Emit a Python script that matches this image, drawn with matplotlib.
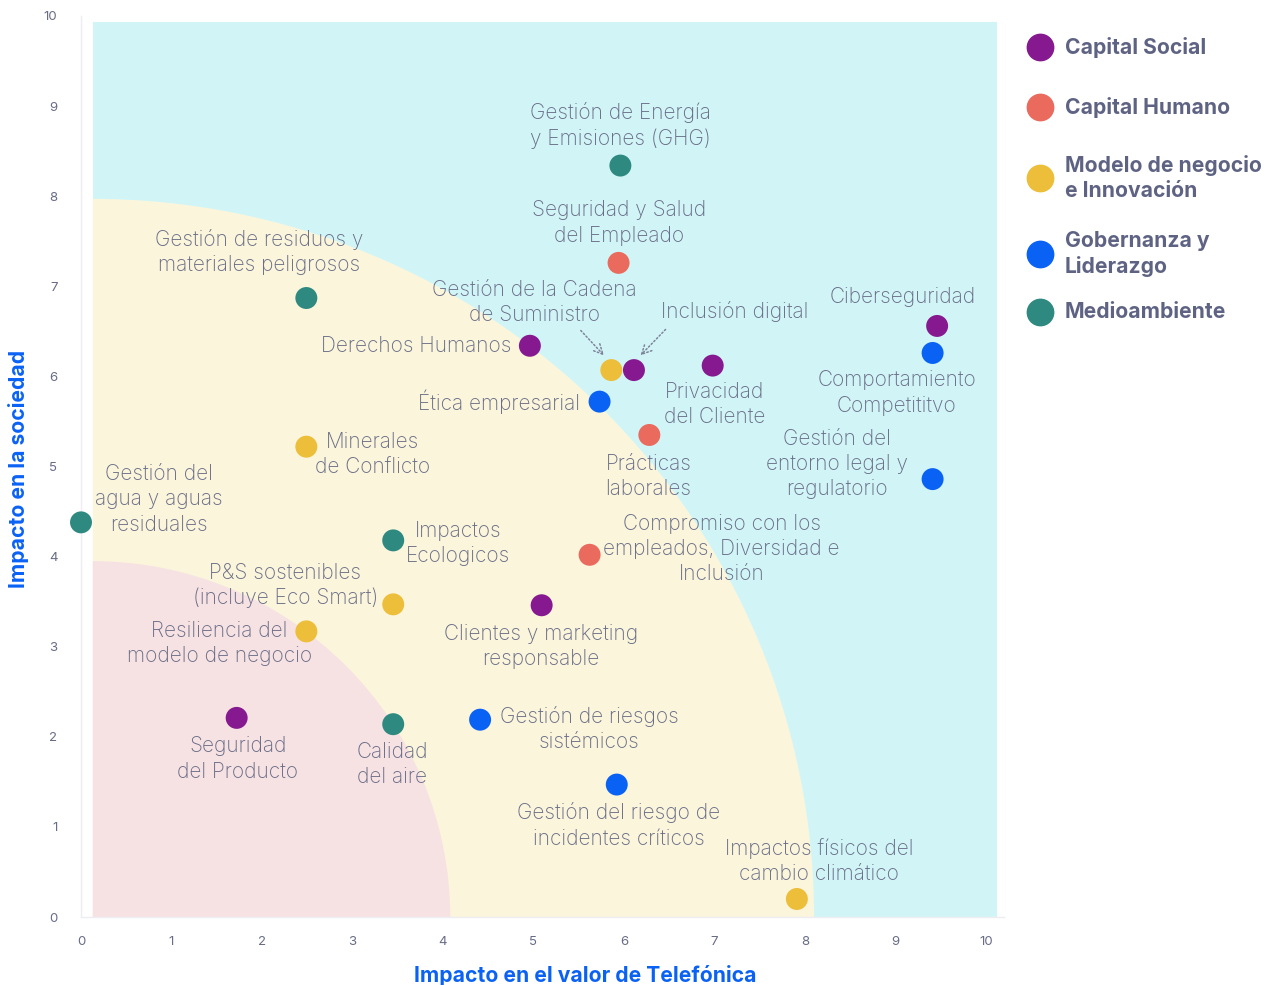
import matplotlib
matplotlib.use("Agg")
import matplotlib.pyplot as plt
from matplotlib.patches import Rectangle, Wedge
from matplotlib.lines import Line2D

# ---------------- data ----------------
categories = ["Capital Social", "Capital Humano", "Modelo de negocio\ne Innovación",
              "Gobernanza y\nLiderazgo", "Medioambiente"]

social_labels = ["Derechos Humanos", "Inclusión digital", "Privacidad\ndel Cliente",
                 "Ciberseguridad", "Clientes y marketing\nresponsable", "Seguridad\ndel Producto"]
social_x = [4.96, 6.11, 6.98, 9.46, 5.09, 1.72]
social_y = [6.34, 6.07, 6.12, 6.56, 3.46, 2.21]

humano_labels = ["Seguridad y Salud\ndel Empleado", "Prácticas\nlaborales",
                 "Compromiso con los\nempleados, Diversidad e\nInclusión"]
humano_x = [5.94, 6.28, 5.62]
humano_y = [7.26, 5.35, 4.02]

negocio_labels = ["Gestión de la Cadena\nde Suministro", "Minerales\nde Conflicto",
                  "P&S sostenibles\n(incluye Eco Smart)", "Resiliencia del\nmodelo de negocio",
                  "Impactos físicos del\ncambio climático"]
negocio_x = [5.86, 2.49, 3.45, 2.49, 7.91]
negocio_y = [6.07, 5.22, 3.47, 3.17, 0.20]

gob_labels = ["Comportamiento\nCompetititvo", "Gestión del\nentorno legal y\nregulatorio",
              "Ética empresarial", "Gestión de riesgos\nsistémicos",
              "Gestión del riesgo de\nincidentes críticos"]
gob_x = [9.41, 9.41, 5.73, 4.41, 5.92]
gob_y = [6.26, 4.86, 5.72, 2.19, 1.47]

medio_labels = ["Gestión de Energía\ny Emisiones (GHG)", "Gestión de residuos y\nmateriales peligrosos",
                "Gestión del\nagua y aguas\nresiduales", "Impactos\nEcologicos", "Calidad\ndel aire"]
medio_x = [5.96, 2.49, 0.00, 3.45, 3.45]
medio_y = [8.34, 6.87, 4.38, 4.18, 2.14]

x_ticks = [0, 1, 2, 3, 4, 5, 6, 7, 8, 9, 10]
y_ticks = [0, 1, 2, 3, 4, 5, 6, 7, 8, 9, 10]
x_title = "Impacto en el valor de Telefónica"
y_title = "Impacto en la sociedad"

# ---------------- styles ----------------
colors = ["#86198F", "#EA6B5E", "#EDBE3A", "#0A62F5", "#2E8A80"]
text_color = "#686C86"
legend_text_color = "#5E6383"
title_color = "#0A62F5"

# label offsets in pixels (dx, dy) and horizontal alignment
offsets = {
    "Derechos Humanos": (-19, 0, "right"),
    "Inclusión digital": (101, 59, "center"),
    "Privacidad\ndel Cliente": (2, -39, "center"),
    "Ciberseguridad": (-34, 29, "center"),
    "Clientes y marketing\nresponsable": (-1, -41, "center"),
    "Seguridad\ndel Producto": (1, -41, "center"),
    "Seguridad y Salud\ndel Empleado": (0, 40, "center"),
    "Prácticas\nlaborales": (-1, -41, "center"),
    "Compromiso con los\nempleados, Diversidad e\nInclusión": (132, 6, "center"),
    "Gestión de la Cadena\nde Suministro": (-77, 68, "center"),
    "Minerales\nde Conflicto": (66, -8, "center"),
    "P&S sostenibles\n(incluye Eco Smart)": (-108, 19, "center"),
    "Resiliencia del\nmodelo de negocio": (-87, -12, "center"),
    "Impactos físicos del\ncambio climático": (22, 38, "center"),
    "Comportamiento\nCompetititvo": (-36, -40, "center"),
    "Gestión del\nentorno legal y\nregulatorio": (-96, 15, "center"),
    "Ética empresarial": (-20, 0, "right"),
    "Gestión de riesgos\nsistémicos": (109, -9, "center"),
    "Gestión del riesgo de\nincidentes críticos": (2, -41, "center"),
    "Gestión de Energía\ny Emisiones (GHG)": (0, 40, "center"),
    "Gestión de residuos y\nmateriales peligrosos": (-47, 46, "center"),
    "Gestión del\nagua y aguas\nresiduales": (78, 23, "center"),
    "Impactos\nEcologicos": (65, -3, "center"),
    "Calidad\ndel aire": (-1, -40, "center"),
}

plt.rcParams['font.family'] = ['Inter', 'DejaVu Sans']

fig = plt.figure(figsize=(12.72, 9.85), dpi=100)
ax_left = 81 / 1272
ax_bottom = (985 - 917) / 985
ax_w = (10.2 * 90.5) / 1272
ax_h = (917 - 16) / 985
ax = fig.add_axes([ax_left, ax_bottom, ax_w, ax_h])
ax.set_xlim(0, 10.2)
ax.set_ylim(0, 10)

# background zones
x0 = 0.13
ax.add_patch(Rectangle((x0, 0), 10.12 - x0, 9.93, facecolor="#D1F5F7", edgecolor="none", zorder=0))
ax.add_patch(Wedge((x0, 0), 7.97, 0, 90, facecolor="#FBF5DC", edgecolor="none", zorder=0.5))
ax.add_patch(Wedge((x0, 0), 3.95, 0, 90, facecolor="#F7E2E3", edgecolor="none", zorder=0.6))

series = [
    (social_x, social_y, social_labels),
    (humano_x, humano_y, humano_labels),
    (negocio_x, negocio_y, negocio_labels),
    (gob_x, gob_y, gob_labels),
    (medio_x, medio_y, medio_labels),
]

for (xs, ys, labs), c in zip(series, colors):
    ax.scatter(xs, ys, s=250, color=c, edgecolors="none", zorder=5, clip_on=False)
    for x, y, lab in zip(xs, ys, labs):
        dx, dy, ha = offsets[lab]
        ax.annotate(lab, (x, y), xytext=(dx, dy), textcoords="offset pixels",
                    ha=ha, va="center", fontsize=15, color=text_color,
                    linespacing=1.33, zorder=6, fontweight="light")

# dotted arrows
arrow_kw = dict(arrowstyle="->,head_length=0.7,head_width=0.35", linestyle=(0, (1, 1.5)),
                color="#7E8399", lw=1.1)
ax.annotate("", xy=(negocio_x[0] - 0.06, negocio_y[0] + 0.14), xytext=(-27, 29),
            textcoords="offset pixels", arrowprops=arrow_kw, zorder=6)
ax.annotate("", xy=(social_x[1] + 0.05, social_y[1] + 0.14), xytext=(29, 30),
            textcoords="offset pixels", arrowprops=arrow_kw, zorder=6)

# axes styling
for s in ["top", "right"]:
    ax.spines[s].set_visible(False)
for s in ["left", "bottom"]:
    ax.spines[s].set_color("#EEEEF2")
    ax.spines[s].set_linewidth(1.0)
ax.set_xticks(x_ticks)
ax.set_yticks(y_ticks)
ax.set_xticklabels([str(t) for t in x_ticks])
ax.set_yticklabels([str(t) for t in y_ticks])
ax.tick_params(axis="both", length=0, labelsize=9.5, labelcolor=text_color)
ax.tick_params(axis="x", pad=14)
ax.tick_params(axis="y", pad=17)

fig.text(585 / 1272, 1 - 975 / 985, x_title, ha="center", va="center",
         fontsize=15.2, fontweight="bold", color=title_color)
fig.text(19 / 1272, 1 - 469 / 985, y_title, ha="center", va="center", rotation=90,
         fontsize=15.2, fontweight="bold", color=title_color)

# legend
leg_y = [47, 107, 178, 254, 312]
for cat, c, yy in zip(categories, colors, leg_y):
    fig.add_artist(Line2D([1040 / 1272], [1 - yy / 985], marker="o", markersize=19,
                          color=c, linestyle="none"))
    fig.text(1065 / 1272, 1 - yy / 985, cat, ha="left", va="center", fontsize=15.2,
             fontweight="bold", color=legend_text_color, linespacing=1.35)

fig.savefig("out.png", dpi=100)
